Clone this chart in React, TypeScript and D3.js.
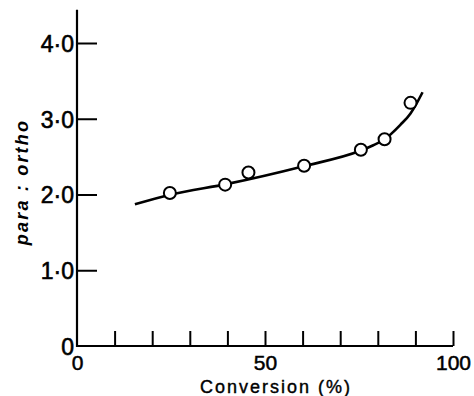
import React, { useEffect, useRef } from "react";
import * as d3 from "d3";

// measured points (conversion %, para:ortho ratio)
const conversion = [24.7, 39.4, 45.6, 60.4, 75.5, 81.8, 88.7];
const ratio = [2.02, 2.13, 2.29, 2.38, 2.59, 2.73, 3.21];

// smooth fitted curve
const curveX = [15.4, 25, 40, 60, 75.5, 78.8, 81.8, 86, 88.7, 90.3, 91.9];
const curveY = [1.87, 2.0, 2.14, 2.37, 2.58, 2.65, 2.73, 2.92, 3.07, 3.2, 3.35];

const xTicks = [0, 10, 20, 30, 40, 50, 60, 70, 80, 90, 100];
const xLabels = [0, 50, 100];
const yTicks = [0, 1, 2, 3, 4];

const width = 474;
const height = 396;

const App: React.FC = () => {
  const chartRef = useRef<SVGSVGElement | null>(null);

  useEffect(() => {
    if (!chartRef.current) return;
    const svg = d3.select(chartRef.current);
    svg.selectAll("*").remove();

    const x = d3.scaleLinear().domain([0, 100]).range([77, 453]);
    const y = d3.scaleLinear().domain([0, 4]).range([346, 43]);

    const font = "'Liberation Sans', Arial, sans-serif";

    // Y axis
    const yAxis = svg
      .append("g")
      .attr("transform", `translate(${x(0)},0)`)
      .call(
        d3
          .axisLeft(y)
          .tickValues(yTicks)
          .tickSizeInner(-20)
          .tickSizeOuter(0)
          .tickPadding(3)
          .tickFormat((d) => (d === 0 ? "0" : d3.format(".1f")(d as number).replace(".", "·")))
      );
    yAxis.select(".domain").remove();
    yAxis.selectAll(".tick line").attr("stroke", "#000").attr("stroke-width", 2);
    yAxis
      .selectAll(".tick text")
      .attr("fill", "#000")
      .attr("stroke", "#000")
      .attr("stroke-width", 0.6)
      .attr("font-family", font)
      .attr("font-size", 23)
      .attr("dy", "0.36em");
    yAxis.selectAll(".tick").filter((d) => d === 0).select("line").remove();

    // X axis
    const xAxis = svg
      .append("g")
      .attr("transform", `translate(0,${y(0)})`)
      .call(
        d3
          .axisBottom(x)
          .tickValues(xTicks)
          .tickSizeInner(-15)
          .tickSizeOuter(0)
          .tickPadding(9)
          .tickFormat((d) => (xLabels.includes(d as number) ? String(d) : ""))
      );
    xAxis.select(".domain").remove();
    xAxis.selectAll(".tick line").attr("stroke", "#000").attr("stroke-width", 2);
    xAxis.selectAll(".tick").filter((d) => d === 0).select("line").remove();
    xAxis
      .selectAll(".tick text")
      .attr("fill", "#000")
      .attr("stroke", "#000")
      .attr("stroke-width", 0.5)
      .attr("font-family", font)
      .attr("font-size", 21);

    // axis lines
    svg
      .append("path")
      .attr("d", `M${x(0)},${y(4.44)}V${y(0)}H${x(100)}`)
      .attr("fill", "none")
      .attr("stroke", "#000")
      .attr("stroke-width", 2.2);

    // fitted curve
    const line = d3
      .line<number>()
      .x((d) => x(curveX[d]))
      .y((d) => y(curveY[d]))
      .curve(d3.curveMonotoneX);
    svg
      .append("path")
      .attr("d", line(d3.range(curveX.length)))
      .attr("fill", "none")
      .attr("stroke", "#000")
      .attr("stroke-width", 2.6);

    // points
    svg
      .selectAll("circle")
      .data(d3.range(conversion.length))
      .enter()
      .append("circle")
      .attr("cx", (i) => x(conversion[i]))
      .attr("cy", (i) => y(ratio[i]))
      .attr("r", 6)
      .attr("fill", "#fff")
      .attr("stroke", "#000")
      .attr("stroke-width", 2);

    // axis labels
    svg
      .append("text")
      .attr("x", 276)
      .attr("y", 393)
      .attr("text-anchor", "middle")
      .attr("font-family", font)
      .attr("font-size", 18)
      .attr("stroke", "#000")
      .attr("stroke-width", 0.4)
      .attr("letter-spacing", 2)
      .text("Conversion (%)");

    svg
      .append("text")
      .attr("transform", `translate(28,182) rotate(-90)`)
      .attr("text-anchor", "middle")
      .attr("font-family", font)
      .attr("font-size", 18)
      .attr("font-style", "italic")
      .attr("font-weight", "bold")
      .attr("letter-spacing", 2.2)
      .text("para : ortho");
  }, []);

  return (
    <svg
      ref={chartRef}
      width={width}
      height={height}
      style={{ position: "absolute", left: 0, top: 0, background: "#fff" }}
    />
  );
};

export default App;
